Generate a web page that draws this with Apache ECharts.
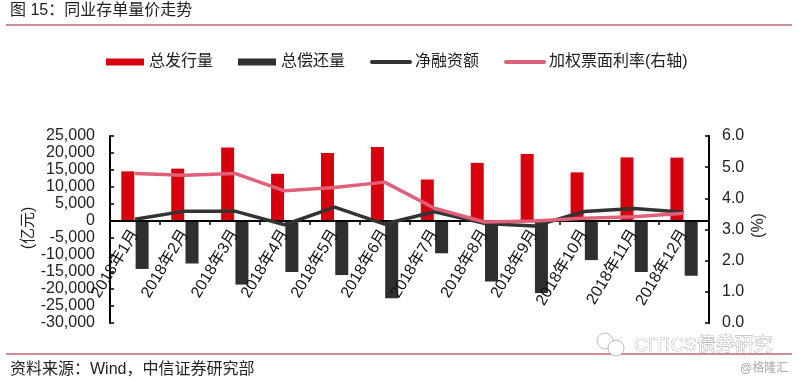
<!DOCTYPE html>
<html><head><meta charset="utf-8">
<style>html,body{margin:0;padding:0;background:#fff}#c{width:800px;height:382px}</style>
<script src="https://cdn.jsdelivr.net/npm/echarts@6/dist/echarts.min.js"></script>
</head><body><div id="c"></div>
<script>
const categories=['2018年1月','2018年2月','2018年3月','2018年4月','2018年5月','2018年6月','2018年7月','2018年8月','2018年9月','2018年10月','2018年11月','2018年12月'];
const issue=[14600,15400,21600,13900,20000,21800,12200,17100,19700,14300,18700,18650];
const repay=[-14100,-12500,-18700,-15000,-15900,-22700,-9500,-17800,-21200,-11500,-15000,-16100];
const net=[500,2900,2900,-1100,4100,-900,2700,-700,-1500,2800,3700,2550];
const rate=[4.80,4.74,4.80,4.24,4.35,4.52,3.68,3.24,3.27,3.36,3.41,3.52];
const FF='"Liberation Sans","Noto Sans CJK SC",sans-serif';
const chart=echarts.init(document.getElementById('c'));
const axisLine={show:true,onZero:false,lineStyle:{color:'#000',width:2}};
chart.setOption({
 animation:false,
 textStyle:{fontFamily:FF},
 grid:{left:110,right:91,top:136,height:187,outerBoundsMode:'none',containLabel:false},
 legend:{top:49,left:101,itemWidth:38,itemHeight:7,itemGap:25,
  textStyle:{fontSize:16,color:'#222',fontFamily:FF},
  data:[{name:'总发行量',icon:'rect'},{name:'总偿还量',icon:'rect'},
   {name:'净融资额',itemStyle:{opacity:0},lineStyle:{width:4,cap:'round'}},
   {name:'加权票面利率(右轴)',itemStyle:{opacity:0},lineStyle:{width:4,cap:'round'}}]},
 xAxis:{type:'category',data:categories,position:'bottom',offset:-102,
  axisLine:{show:true,onZero:false,lineStyle:{color:'#000',width:2}},
  axisTick:{show:true,length:4,lineStyle:{color:'#000',width:1.5}},
  axisLabel:{interval:0,rotate:59,fontSize:16,color:'#111',margin:10,fontFamily:FF},z:5},
 yAxis:[
  {type:'value',min:-30000,max:25000,interval:5000,name:'(亿元)',nameLocation:'middle',nameGap:73,nameRotate:90,nameMoveOverlap:false,
   nameTextStyle:{fontSize:16,color:'#222',padding:[0,0,0,3]},
   splitLine:{show:false},axisLine,
   axisTick:{show:true,inside:true,length:4,lineStyle:{color:'#000',width:1.5}},
   axisLabel:{fontSize:16,color:'#222',margin:15,fontFamily:FF,showMinLabel:true,showMaxLabel:true,hideOverlap:false,formatter:v=>v.toLocaleString('en-US')}},
  {type:'value',min:0,max:6,interval:1,name:'(%)',nameLocation:'middle',nameGap:42,nameRotate:90,nameMoveOverlap:false,
   nameTextStyle:{fontSize:16,color:'#222',padding:[0,0,0,8]},
   splitLine:{show:false},axisLine,
   axisTick:{show:true,inside:true,length:4,lineStyle:{color:'#000',width:1.5}},
   axisLabel:{fontSize:16,color:'#222',margin:13,fontFamily:FF,formatter:v=>v.toFixed(1)}}
 ],
 series:[
  {name:'总发行量',type:'bar',data:issue,barWidth:13,barGap:'10%',itemStyle:{color:'#d7000f'},z:2},
  {name:'总偿还量',type:'bar',data:repay,barWidth:13,barGap:'10%',itemStyle:{color:'#2f2f2f'},z:2},
  {name:'净融资额',type:'line',data:net,symbol:'none',lineStyle:{color:'#333',width:3.5},itemStyle:{color:'#333'},z:6},
  {name:'加权票面利率(右轴)',type:'line',yAxisIndex:1,data:rate,symbol:'none',lineStyle:{color:'#e0607a',width:3.5},itemStyle:{color:'#e0607a'},z:7}
 ],
 graphic:[
  {type:'text',left:10,top:3,style:{text:'图 15：同业存单量价走势',fontSize:16,fontFamily:FF,fill:'#222'}},
  {type:'line',shape:{x1:6,y1:25,x2:792,y2:25},style:{stroke:'#8c1c2c',lineWidth:1}},
  {type:'line',shape:{x1:6,y1:354,x2:792,y2:354},style:{stroke:'#a01628',lineWidth:1}},
  {type:'text',left:10,top:362,style:{text:'资料来源：Wind，中信证券研究部',fontSize:16,fontFamily:FF,fill:'#222'}},
  {type:'circle',shape:{cx:605,cy:341,r:8},z:20,style:{fill:'#fff',stroke:'#aaa',lineWidth:0.8}},
  {type:'circle',shape:{cx:616,cy:348,r:8},z:20,style:{fill:'#fff',stroke:'#aaa',lineWidth:0.8}},
  {type:'text',left:634,top:336,z:20,style:{text:'CITICS债券研究',fontSize:19,fontFamily:FF,fill:'#fff',stroke:'#999',lineWidth:0.7}},
  {type:'text',left:740,top:363,style:{text:'@格隆汇',fontSize:12,fontFamily:FF,fill:'#aaa'}}
 ]
});
</script></body></html>
